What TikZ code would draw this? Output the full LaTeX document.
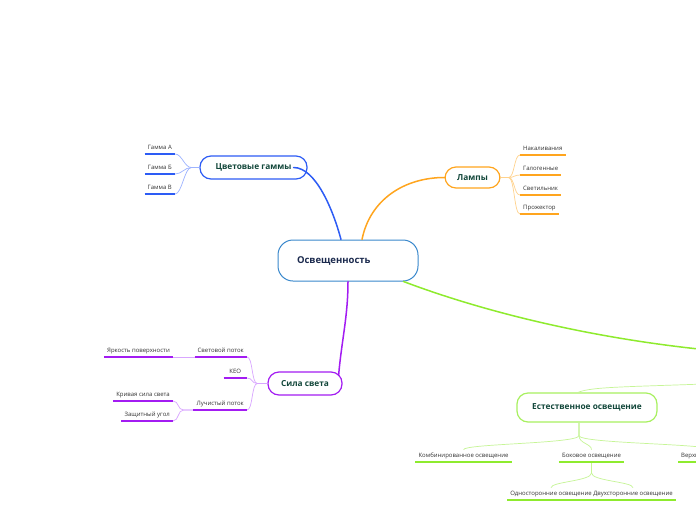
\documentclass[tikz,border=0pt]{standalone}
\usepackage{fontspec}
\setmainfont{Open Sans}
\usepackage{xcolor}
\usepackage{tikz}
\usetikzlibrary{calc}

\definecolor{ctrblue}{HTML}{3A88CC}
\definecolor{ctrtxt}{HTML}{1B2A4E}
\definecolor{topictxt}{HTML}{12473A}
\definecolor{leaftxt}{HTML}{333333}
\definecolor{gblue}{HTML}{2D5CF5}
\definecolor{gblueL}{HTML}{9DB3FF}
\definecolor{lorange}{HTML}{FFA51E}
\definecolor{lorangeL}{HTML}{FFD28C}
\definecolor{spurple}{HTML}{A31CF2}
\definecolor{spurpleL}{HTML}{D9A6FF}
\definecolor{egreen}{HTML}{8EEB2E}
\definecolor{egreenB}{HTML}{A8F060}
\definecolor{egreenL}{HTML}{C6F596}

\tikzset{
  %% Central idea
  rootbox/.style={
    rectangle, rounded corners=15pt,
    draw=ctrblue, fill=white, line width=1pt,
    minimum height=41pt, text width=102pt, align=left,
    inner xsep=19pt, text=ctrtxt, text depth=0pt,
    font=\fontsize{9.5}{11}\selectfont\bfseries
  },
  %% Main topic pill
  topic/.style={
    rectangle, rounded corners=11pt,
    draw=#1, fill=white, line width=1.2pt,
    minimum height=23pt, inner xsep=6pt, text=topictxt,
    font=\fontsize{8.3}{10}\selectfont\bfseries
  },
  topic/.default=gblue,
  %% Leaf text
  leafnode/.style={
    inner xsep=3pt, inner ysep=3pt,
    text height=4.6pt, text depth=1.3pt, text=leaftxt,
    font=\fontsize{6}{7}\selectfont
  },
  %% Branch from the centre
  branch/.style={draw=#1, line width=1.5pt, line cap=round},
  %% Thin link to a leaf
  twig/.style={draw=#1, line width=0.7pt},
  %% Leaf underline
  uline/.style={draw=#1, line width=2pt},
}

\begin{document}
\begin{tikzpicture}[x=1pt, y=-1pt]

  \path[use as bounding box, fill=white] (0,0) rectangle (696,520);

  %% Central node
  \node[rootbox] (ctr) at (348,260.5) {Освещенность};

  %% Main topics
  \node[topic=gblue,   minimum width=107pt] (gam) at (253.5,167.5) {Цветовые гаммы};
  \node[topic=lorange, minimum width=55pt, minimum height=21pt]
       (lmp) at (472.5,177.5) {Лампы};
  \node[topic=spurple, minimum width=74pt] (sil) at (305,383.5) {Сила света};
  \node[topic=egreenB, minimum width=140pt, minimum height=29pt]
       (est) at (587,407.5) {Естественное освещение};

  %% Parent of the green branch, off the page
  \coordinate (vid)  at (730,352);
  \coordinate (vidb) at (730,383);

  %% Colour ranges
  \node[leafnode, anchor=south east] (gA) at (175,154) {Гамма А};
  \node[leafnode, anchor=south east] (gB) at (175,174) {Гамма Б};
  \node[leafnode, anchor=south east] (gV) at (175,194) {Гамма В};

  %% Lamps
  \node[leafnode, anchor=south west] (lNak)  at (520,155) {Накаливания};
  \node[leafnode, anchor=south west] (lGal)  at (520,175) {Галогенные};
  \node[leafnode, anchor=south west] (lSvet) at (520,195) {Светильник};
  \node[leafnode, anchor=south west] (lProj) at (520,214) {Прожектор};

  %% Luminous intensity
  \node[leafnode, anchor=south east] (svp) at (247,357) {Световой поток};
  \node[leafnode, anchor=south east, minimum width=23pt] (keo) at (247,378) {КЕО};
  \node[leafnode, anchor=south east] (lup) at (247,410) {Лучистый поток};
  \node[leafnode, anchor=south east] (yark)  at (173,357) {Яркость поверхности};
  \node[leafnode, anchor=south east] (kriv)  at (173,401) {Кривая сила света};
  \node[leafnode, anchor=south east] (zasch) at (173,421) {Защитный угол};

  %% Daylight
  \node[leafnode, anchor=south]      (komb) at (463.5,462) {Комбинированное освещение};
  \node[leafnode, anchor=south]      (bok)  at (591.5,462) {Боковое освещение};
  \node[leafnode, anchor=south west] (verh) at (678,462)   {Верхнее освещение};
  \node[leafnode, anchor=south]      (odn)  at (551,500)   {Односторонние освещение};
  \node[leafnode, anchor=south]      (dvu)  at (633,500)   {Двухсторонние освещение};

  %% Branches
  \draw[branch=gblue] ($(gam.east)+(-14,0)$)
       .. controls +(22,0) and +(-8,-30) .. ($(ctr.north)+(-7,0)$);
  \draw[branch=lorange] ($(ctr.north)+(14,0)$)
       .. controls +(8,-40) and +(-40,0) .. (lmp.west);
  \draw[branch=spurple] (ctr.south)
       .. controls +(0,35) and +(3,-35) .. ($(sil.north east)+(-4,4)$);
  \draw[branch=egreen] ($(ctr.south east)+(-15,0)$)
       .. controls +(90,34) and +(-120,-10) .. (vid);
  \draw[twig=egreenL] (vidb)
       .. controls +(-100,4) and +(14,-6) .. ($(est.north)+(-9,0)$);

  %% Leaf links
  \foreach \n in {gA,gB,gV}
    \draw[twig=gblueL] (gam.west) -- ++(-8,0)
         .. controls +(-7,0) and +(7,0) .. (\n.south east);
  \foreach \n in {lNak,lGal,lSvet,lProj}
    \draw[twig=lorangeL] (lmp.east) -- ++(8,0)
         .. controls +(6,0) and +(-6,0) .. (\n.south west);
  \foreach \n in {svp,keo,lup}
    \draw[twig=spurpleL] (sil.west) -- ++(-10,0)
         .. controls +(-6,0) and +(6,0) .. (\n.south east);
  \draw[twig=spurpleL] (svp.south west) -- (yark.south east);
  \foreach \n in {kriv,zasch}
    \draw[twig=spurpleL] (lup.south west) -- ++(-10,0)
         .. controls +(-6,0) and +(6,0) .. (\n.south east);
  \foreach \n in {komb,bok,verh}
    \draw[twig=egreenL] ($(est.south)+(-8,0)$) -- ++(0,13)
         .. controls +(0,8) and +(0,-6) .. (\n.north);
  \foreach \n in {odn,dvu}
    \draw[twig=egreenL] (bok.south) -- ++(0,11)
         .. controls +(0,8) and +(0,-6) .. (\n.north);

  %% Underlines
  \foreach \n in {gA,gB,gV}
    \draw[uline=gblue] (\n.south west) -- (\n.south east);
  \foreach \n in {lNak,lGal,lSvet,lProj}
    \draw[uline=lorange] (\n.south west) -- (\n.south east);
  \foreach \n in {svp,keo,lup,yark,kriv,zasch}
    \draw[uline=spurple] (\n.south west) -- (\n.south east);
  \foreach \n in {komb,bok,verh,odn,dvu}
    \draw[uline=egreen] (\n.south west) -- (\n.south east);

\end{tikzpicture}
\end{document}
